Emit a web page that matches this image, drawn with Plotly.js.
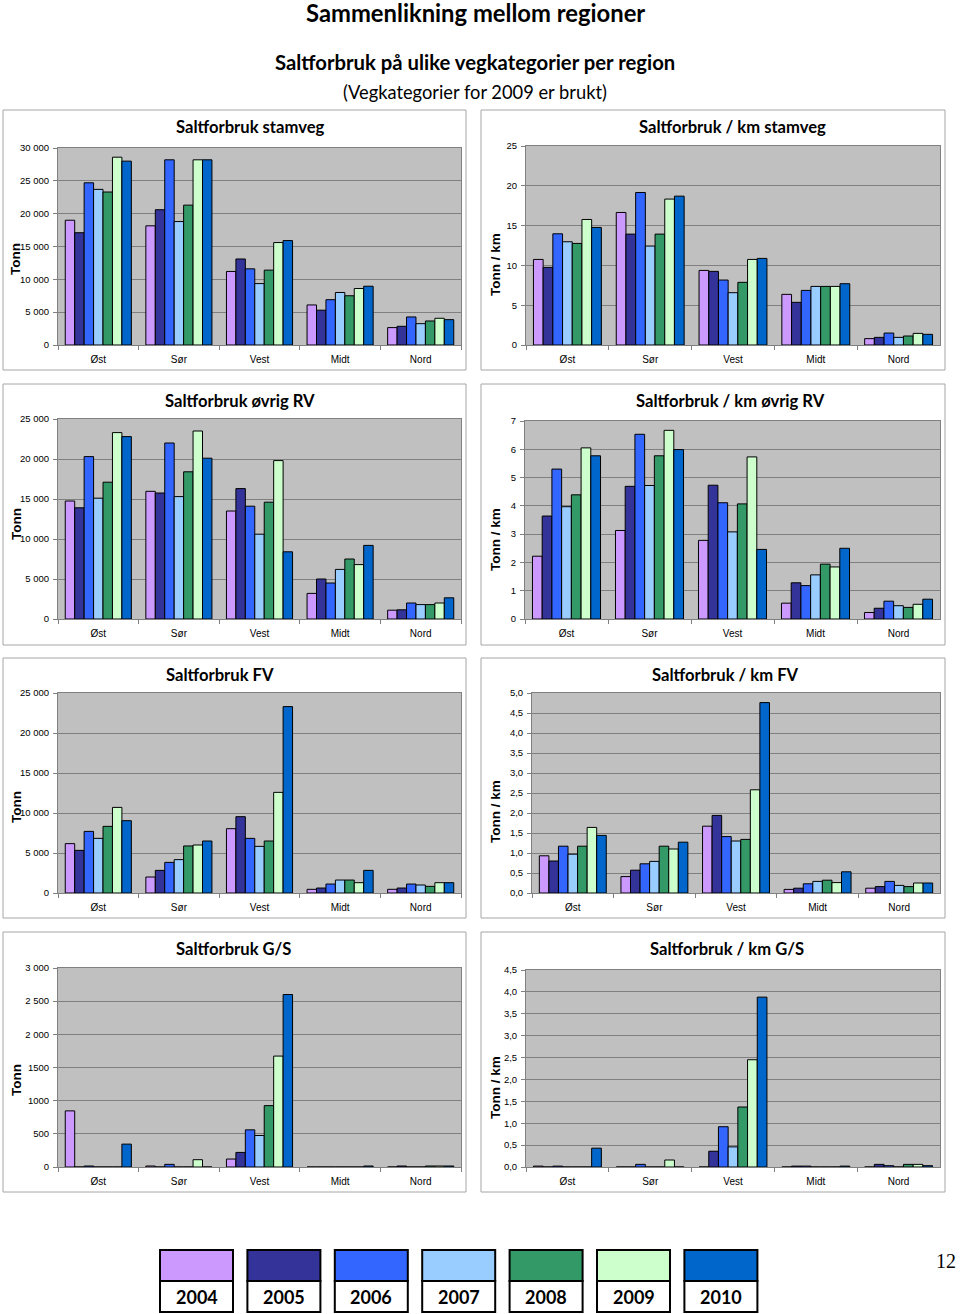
<!DOCTYPE html>
<html>
<head>
<meta charset="utf-8">
<script src="https://cdn.plot.ly/plotly-3.0.1.min.js"></script>
<style>
html,body{margin:0;padding:0;background:#fff;}
#chart{width:960px;height:1314px;}
</style>
</head>
<body>
<div id="chart"></div>
<script>
// ---------- DATA ----------
const regions = ['Øst', 'Sør', 'Vest', 'Midt', 'Nord'];
const years = ['2004', '2005', '2006', '2007', '2008', '2009', '2010'];
const yearColors = ['#CC99FF', '#333399', '#3366FF', '#99CCFF', '#339966', '#CCFFCC', '#0066CC'];

// rows = years 2004..2010, columns = regions
const stamveg = [
  [19000, 18150, 11200, 6100, 2650],
  [17100, 20600, 13100, 5300, 2850],
  [24700, 28200, 11600, 6900, 4270],
  [23700, 18800, 9350, 8000, 3250],
  [23300, 21300, 11400, 7500, 3660],
  [28600, 28200, 15600, 8600, 4070],
  [28000, 28200, 15900, 8950, 3860]
];
const stamvegKm = [
  [10.75, 16.65, 9.37, 6.36, 0.80],
  [9.75, 13.93, 9.25, 5.36, 0.96],
  [13.97, 19.16, 8.16, 6.86, 1.50],
  [12.97, 12.43, 6.57, 7.36, 0.96],
  [12.76, 13.93, 7.87, 7.36, 1.13],
  [15.77, 18.33, 10.75, 7.36, 1.46],
  [14.77, 18.70, 10.88, 7.70, 1.34]
];
const ovrigRV = [
  [14750, 15960, 13500, 3200, 1100],
  [13900, 15750, 16300, 5000, 1150],
  [20300, 22000, 14100, 4500, 2000],
  [15100, 15300, 10600, 6200, 1800],
  [17100, 18400, 14600, 7500, 1800],
  [23300, 23500, 19800, 6800, 2000],
  [22800, 20100, 8400, 9200, 2650]
];
const ovrigRVKm = [
  [2.22, 3.13, 2.78, 0.56, 0.23],
  [3.64, 4.69, 4.73, 1.28, 0.38],
  [5.30, 6.53, 4.11, 1.18, 0.63],
  [3.97, 4.72, 3.08, 1.56, 0.47],
  [4.39, 5.77, 4.07, 1.94, 0.41],
  [6.05, 6.67, 5.73, 1.84, 0.52],
  [5.77, 5.99, 2.46, 2.50, 0.70]
];
const fv = [
  [6170, 2000, 8040, 460, 460],
  [5330, 2830, 9540, 620, 620],
  [7700, 3830, 6830, 1120, 1120],
  [6830, 4170, 5830, 1620, 1000],
  [8330, 5880, 6500, 1620, 830],
  [10700, 6000, 12580, 1290, 1290],
  [9040, 6500, 23300, 2830, 1290]
];
const fvKm = [
  [0.93, 0.41, 1.67, 0.09, 0.12],
  [0.80, 0.57, 1.94, 0.12, 0.16],
  [1.17, 0.73, 1.41, 0.23, 0.29],
  [0.97, 0.79, 1.30, 0.29, 0.19],
  [1.17, 1.17, 1.34, 0.32, 0.16],
  [1.64, 1.10, 2.58, 0.26, 0.25],
  [1.44, 1.27, 4.76, 0.53, 0.25]
];
const gs = [
  [846, 15, 120, 0, 0],
  [0, 0, 220, 0, 15],
  [15, 40, 560, 0, 0],
  [0, 0, 475, 0, 0],
  [0, 0, 925, 0, 15],
  [0, 110, 1672, 0, 15],
  [345, 0, 2600, 15, 15]
];
const gsKm = [
  [0.02, 0, 0, 0, 0],
  [0, 0, 0.36, 0.02, 0.06],
  [0.02, 0.06, 0.92, 0.02, 0.03],
  [0, 0, 0.46, 0, 0],
  [0, 0, 1.37, 0, 0.06],
  [0, 0.16, 2.45, 0, 0.06],
  [0.43, 0, 3.88, 0.02, 0.03]
];
const gsTickVals = [0, 500, 1000, 1500, 2000, 2500, 3000];
const gsTickLabels = ['0', '500', '1000', '1500', '2 000', '2 500', '3 000'];

const panelTitles = ['Saltforbruk stamveg', 'Saltforbruk / km stamveg',
  'Saltforbruk øvrig RV', 'Saltforbruk / km øvrig RV',
  'Saltforbruk FV', 'Saltforbruk / km FV',
  'Saltforbruk G/S', 'Saltforbruk / km G/S'];
const yTitles = ['Tonn', 'Tonn / km', 'Tonn', 'Tonn / km', 'Tonn', 'Tonn / km', 'Tonn', 'Tonn / km'];
const mainTitle = 'Sammenlikning mellom regioner';
const subTitle = 'Saltforbruk på ulike vegkategorier per region';
const subTitle2 = '(Vegkategorier for 2009 er brukt)';
const pageNumber = '12';

// ---------- LAYOUT ----------
const W = 960, H = 1314;
const X = p => p / W;
const Y = p => 1 - p / H;

const panelData = [stamveg, stamvegKm, ovrigRV, ovrigRVKm, fv, fvKm, gs, gsKm];
const panels = [
  {plotX: [58, 461], plotY: [148, 345], box: [3, 110, 466, 370], titleX: 250, titleY: 127, yTitleX: 16, yTitleY: 259, range: [0, 30000], dtick: 5000, fmt: ',d'},
  {plotX: [526, 940], plotY: [146, 345], box: [481, 110, 945, 370], titleX: 732, titleY: 127, yTitleX: 495, yTitleY: 265, range: [0, 25], dtick: 5, fmt: 'd'},
  {plotX: [58, 461], plotY: [419, 619], box: [3, 384, 466, 645], titleX: 240, titleY: 401, yTitleX: 16, yTitleY: 524, range: [0, 25000], dtick: 5000, fmt: ',d'},
  {plotX: [525, 940], plotY: [421, 619], box: [481, 384, 945, 645], titleX: 730, titleY: 401, yTitleX: 495, yTitleY: 540, range: [0, 7], dtick: 1, fmt: 'd'},
  {plotX: [58, 461], plotY: [693, 893], box: [3, 658, 466, 918], titleX: 220, titleY: 675, yTitleX: 16, yTitleY: 807, range: [0, 25000], dtick: 5000, fmt: ',d'},
  {plotX: [532, 940], plotY: [693, 893], box: [481, 658, 945, 918], titleX: 725, titleY: 675, yTitleX: 495, yTitleY: 812, range: [0, 5], dtick: 0.5, fmt: '.1f'},
  {plotX: [58, 461], plotY: [968, 1167], box: [3, 932, 466, 1192], titleX: 233, titleY: 949, yTitleX: 16, yTitleY: 1080, range: [0, 3000], dtick: 500, fmt: null},
  {plotX: [526, 940], plotY: [970, 1167], box: [481, 932, 945, 1192], titleX: 727, titleY: 949, yTitleX: 495, yTitleY: 1088, range: [0, 4.5], dtick: 0.5, fmt: '.1f'}
];

const traces = [];
const layout = {
  width: W, height: H,
  margin: {l: 0, r: 0, t: 0, b: 0},
  paper_bgcolor: '#ffffff',
  plot_bgcolor: '#c0c0c0',
  showlegend: false,
  barmode: 'group',
  bargap: 0.18,
  bargroupgap: 0,
  separators: ', ',
  font: {family: 'Liberation Sans, Arial, sans-serif', color: '#000'},
  shapes: [],
  annotations: []
};

panels.forEach((p, i) => {
  const n = i + 1;
  const xa = 'x' + (n === 1 ? '' : n);
  const ya = 'y' + (n === 1 ? '' : n);
  const data = panelData[i];
  years.forEach((yr, k) => {
    traces.push({
      type: 'bar', name: yr, x: regions, y: data[k],
      xaxis: xa, yaxis: ya,
      marker: {color: yearColors[k], line: {color: '#000', width: 1}},
      hoverinfo: 'x+y+name'
    });
  });
  const xKey = 'xaxis' + (n === 1 ? '' : n);
  const yKey = 'yaxis' + (n === 1 ? '' : n);
  layout[xKey] = {
    domain: [X(p.plotX[0]), X(p.plotX[1])],
    anchor: ya,
    type: 'category',
    categoryorder: 'array', categoryarray: regions,
    showgrid: false, zeroline: false,
    showline: true, mirror: true, linecolor: '#808080', linewidth: 1,
    ticks: 'outside', tickson: 'boundaries', ticklen: 4, tickcolor: '#808080',
    tickfont: {family: 'Liberation Sans, Arial, sans-serif', size: 10, color: '#000'},
    ticklabelstandoff: 5,
    fixedrange: true
  };
  const yax = {
    domain: [Y(p.plotY[1]), Y(p.plotY[0])],
    anchor: xa,
    range: p.range,
    showgrid: true, gridcolor: '#808080', gridwidth: 1,
    zeroline: false,
    showline: true, mirror: true, linecolor: '#808080', linewidth: 1,
    ticks: 'outside', ticklen: 4, tickcolor: '#808080',
    tickfont: {family: 'Liberation Sans, Arial, sans-serif', size: 9.5, color: '#000'},
    ticklabelstandoff: 2,
    fixedrange: true
  };
  if (p.fmt) {
    yax.tickmode = 'linear'; yax.tick0 = 0; yax.dtick = p.dtick; yax.tickformat = p.fmt;
  } else {
    yax.tickmode = 'array'; yax.tickvals = gsTickVals; yax.ticktext = gsTickLabels;
  }
  layout[yKey] = yax;

  // panel frame
  layout.shapes.push({type: 'rect', xref: 'paper', yref: 'paper',
    x0: X(p.box[0]), x1: X(p.box[2]), y0: Y(p.box[3]), y1: Y(p.box[1]),
    line: {color: '#a6a6a6', width: 1}, fillcolor: 'rgba(0,0,0,0)', layer: 'below'});
  // panel title
  layout.annotations.push({xref: 'paper', yref: 'paper', x: X(p.titleX), y: Y(p.titleY),
    text: '<b>' + panelTitles[i] + '</b>', showarrow: false, xanchor: 'center', yanchor: 'middle',
    font: {family: 'Lato, sans-serif', size: 16.6, color: '#000'}});
  // y axis title
  layout.annotations.push({xref: 'paper', yref: 'paper', x: X(p.yTitleX), y: Y(p.yTitleY),
    text: '<b>' + yTitles[i] + '</b>', showarrow: false, textangle: -90, xanchor: 'center', yanchor: 'middle',
    font: {family: 'Liberation Sans, Arial, sans-serif', size: 13.5, color: '#000'}});
});

// main titles
layout.annotations.push({xref: 'paper', yref: 'paper', x: X(475), y: Y(13), text: '<b>' + mainTitle + '</b>',
  showarrow: false, xanchor: 'center', yanchor: 'middle', font: {family: 'Lato, sans-serif', size: 23.8, color: '#000'}});
layout.annotations.push({xref: 'paper', yref: 'paper', x: X(475), y: Y(62), text: '<b>' + subTitle + '</b>',
  showarrow: false, xanchor: 'center', yanchor: 'middle', font: {family: 'Lato, sans-serif', size: 20.3, color: '#000'}});
layout.annotations.push({xref: 'paper', yref: 'paper', x: X(475), y: Y(92), text: subTitle2,
  showarrow: false, xanchor: 'center', yanchor: 'middle', font: {family: 'Lato, sans-serif', size: 18.3, color: '#000'}});
layout.annotations.push({xref: 'paper', yref: 'paper', x: X(946), y: Y(1261), text: pageNumber,
  showarrow: false, xanchor: 'center', yanchor: 'middle', font: {family: 'Liberation Serif, serif', size: 20, color: '#000'}});

// colour key at the bottom
years.forEach((yr, k) => {
  const x0 = 160 + k * 87.4, x1 = x0 + 73;
  layout.shapes.push({type: 'rect', xref: 'paper', yref: 'paper', x0: X(x0), x1: X(x1), y0: Y(1281), y1: Y(1250),
    fillcolor: yearColors[k], line: {color: '#000', width: 2}});
  layout.shapes.push({type: 'rect', xref: 'paper', yref: 'paper', x0: X(x0), x1: X(x1), y0: Y(1312), y1: Y(1281),
    fillcolor: '#ffffff', line: {color: '#000', width: 2}});
  layout.annotations.push({xref: 'paper', yref: 'paper', x: X((x0 + x1) / 2), y: Y(1297), text: '<b>' + yr + '</b>',
    showarrow: false, xanchor: 'center', yanchor: 'middle', font: {family: 'Lato, sans-serif', size: 18, color: '#000'}});
});

Plotly.newPlot('chart', traces, layout, {displayModeBar: false, staticPlot: true});
</script>
</body>
</html>
